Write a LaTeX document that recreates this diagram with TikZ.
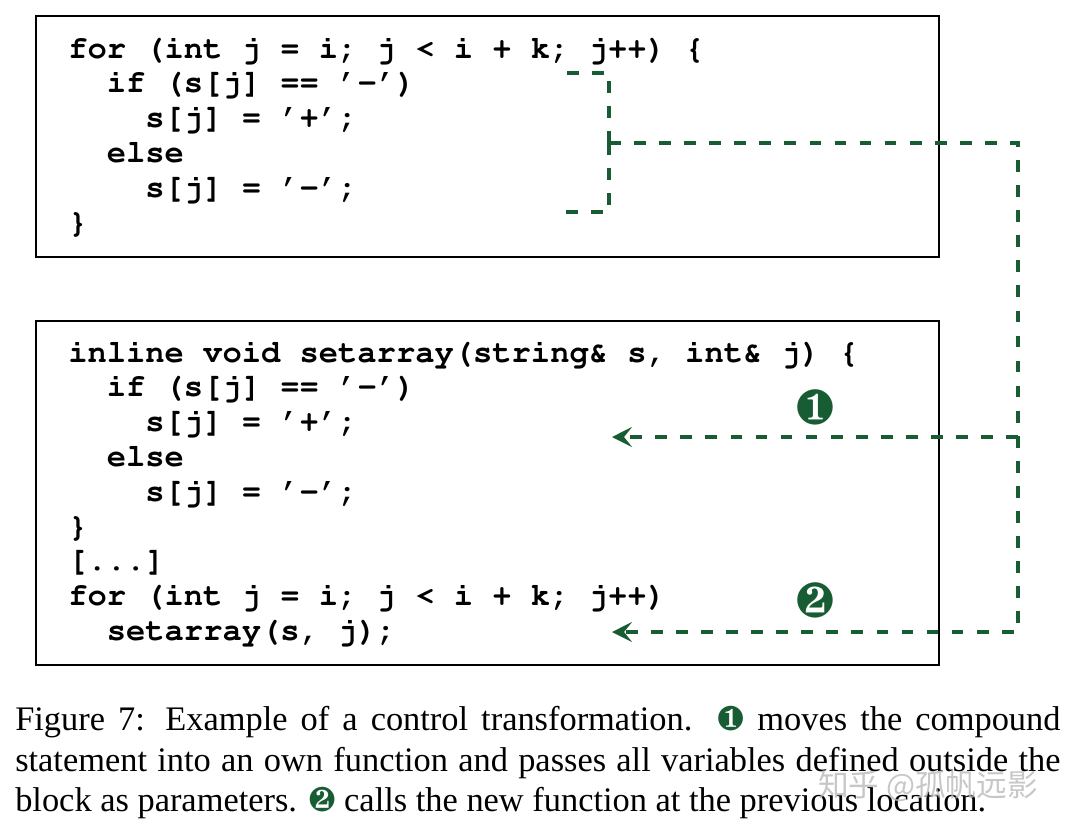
\documentclass[tikz,border=0pt]{standalone}
\usepackage[T1]{fontenc}
\usepackage{fontspec}
\setmainfont{Liberation Serif}
\newfontfamily\cjkfont{Noto Sans CJK SC}
\usepackage{xcolor}
\usepackage{pifont}
\usepackage{tikz}
\usetikzlibrary{arrows.meta}

\definecolor{flowgreen}{RGB}{24,92,52}
\newcommand{\codefont}{\fontencoding{T1}\fontfamily{pcr}\fontseries{b}\fontsize{24.1}{26}\selectfont}
\newcommand{\capnum}[1]{\textcolor{flowgreen}{\ding{#1}}}

\tikzset{
  codebox/.style={draw, line width=1.2pt, inner sep=0pt, anchor=north west},
  codeline/.style={anchor=base west, inner sep=0pt, font=\codefont},
  flow/.style={draw=flowgreen, line width=3pt, dash pattern=on 8.8pt off 10pt},
  flowtip/.style={-{Stealth[length=15pt,width=15pt,inset=6pt]}},
  stepnum/.style={inner sep=0pt, text=flowgreen, font=\fontsize{37}{37}\selectfont}
}

\begin{document}
\begin{tikzpicture}[x=0.75pt,y=0.75pt,yscale=-1,xscale=1]
        \useasboundingbox (0,0) rectangle (1070,836);
        %Shape: Rectangle [id:topbox]
        \node[codebox, minimum width=677.25pt, minimum height=180.75pt] (topbox) at (35,15) {};
        %Shape: Rectangle [id:botbox]
        \node[codebox, minimum width=677.25pt, minimum height=258pt] (botbox) at (35,320) {};
        % Text Node
        \node[codeline] (t1) at (68,58) {for (int j = i; j < i + k; j++) \{};
        \node[codeline] (t2) at (106.6,92.8) {if (s[j] == '-')};
        \node[codeline] (t3) at (145.2,127.6) {s[j] = '+';};
        \node[codeline] (t4) at (106.6,162.4) {else};
        \node[codeline] (t5) at (145.2,197.2) {s[j] = '-';};
        \node[codeline] (t6) at (68,232) {\}};
        % Text Node
        \node[codeline] (b1) at (68,362) {inline void setarray(string\& s, int\& j) \{};
        \node[codeline] (b2) at (106.6,396.8) {if (s[j] == '-')};
        \node[codeline] (b3) at (145.2,431.6) {s[j] = '+';};
        \node[codeline] (b4) at (106.6,466.4) {else};
        \node[codeline] (b5) at (145.2,501.2) {s[j] = '-';};
        \node[codeline] (b6) at (68,536) {\}};
        \node[codeline] (b7) at (68,570.8) {[...]};
        \node[codeline] (b8) at (68,605.6) {for (int j = i; j < i + k; j++)};
        \node[codeline] (b9) at (106.6,640.4) {setarray(s, j);};
        %Points of the connectors
        \coordinate (brtopl) at (563,73);
        \coordinate (brtopr) at (609,73);
        \coordinate (brbotr) at (609,212);
        \coordinate (brbotl) at (563,212);
        \coordinate (brmid) at (609,143);
        \coordinate (rtop) at (1018,143);
        \coordinate (rmid) at (1018,437);
        \coordinate (rbot) at (1018,632);
        \coordinate (tgt1) at (612,437);
        \coordinate (tgt2) at (612,632);
        %Straight Lines [id:bracket]
        \draw[flow] (brmid) -- (brtopr) -- (brtopl);
        \draw[flow] (brmid) -- (brbotr) -- (brbotl);
        %Straight Lines [id:moves]
        \draw[flow, flowtip] (brmid) -- (rtop) -- (rbot) -- (tgt2);
        \draw[flow, flowtip] (rmid) -- (tgt1);
        % Text Node
        \node[stepnum] (n1) at (815,407) {\ding{182}};
        \node[stepnum] (n2) at (815,600) {\ding{183}};
        % Text Node
        \node[anchor=north west, inner sep=0pt, text width=784pt, align=justify,
              font=\fontsize{25.8}{30.4}\selectfont] (cap) at (15,706)
          {\hyphenpenalty=10000 Figure 7: Example of a control transformation. \capnum{182} moves the compound\linebreak
           statement into an own function and passes all variables defined outside the\linebreak
           block as parameters. \capnum{183} calls the new function at the previous location.};
        % Text Node
        \node[anchor=center, inner sep=0pt, text=gray!55, opacity=0.8,
              font=\cjkfont\fontsize{23}{23}\selectfont] (mark) at (928,786) {知乎 @孤帆远影};
        \end{tikzpicture}
\end{document}
